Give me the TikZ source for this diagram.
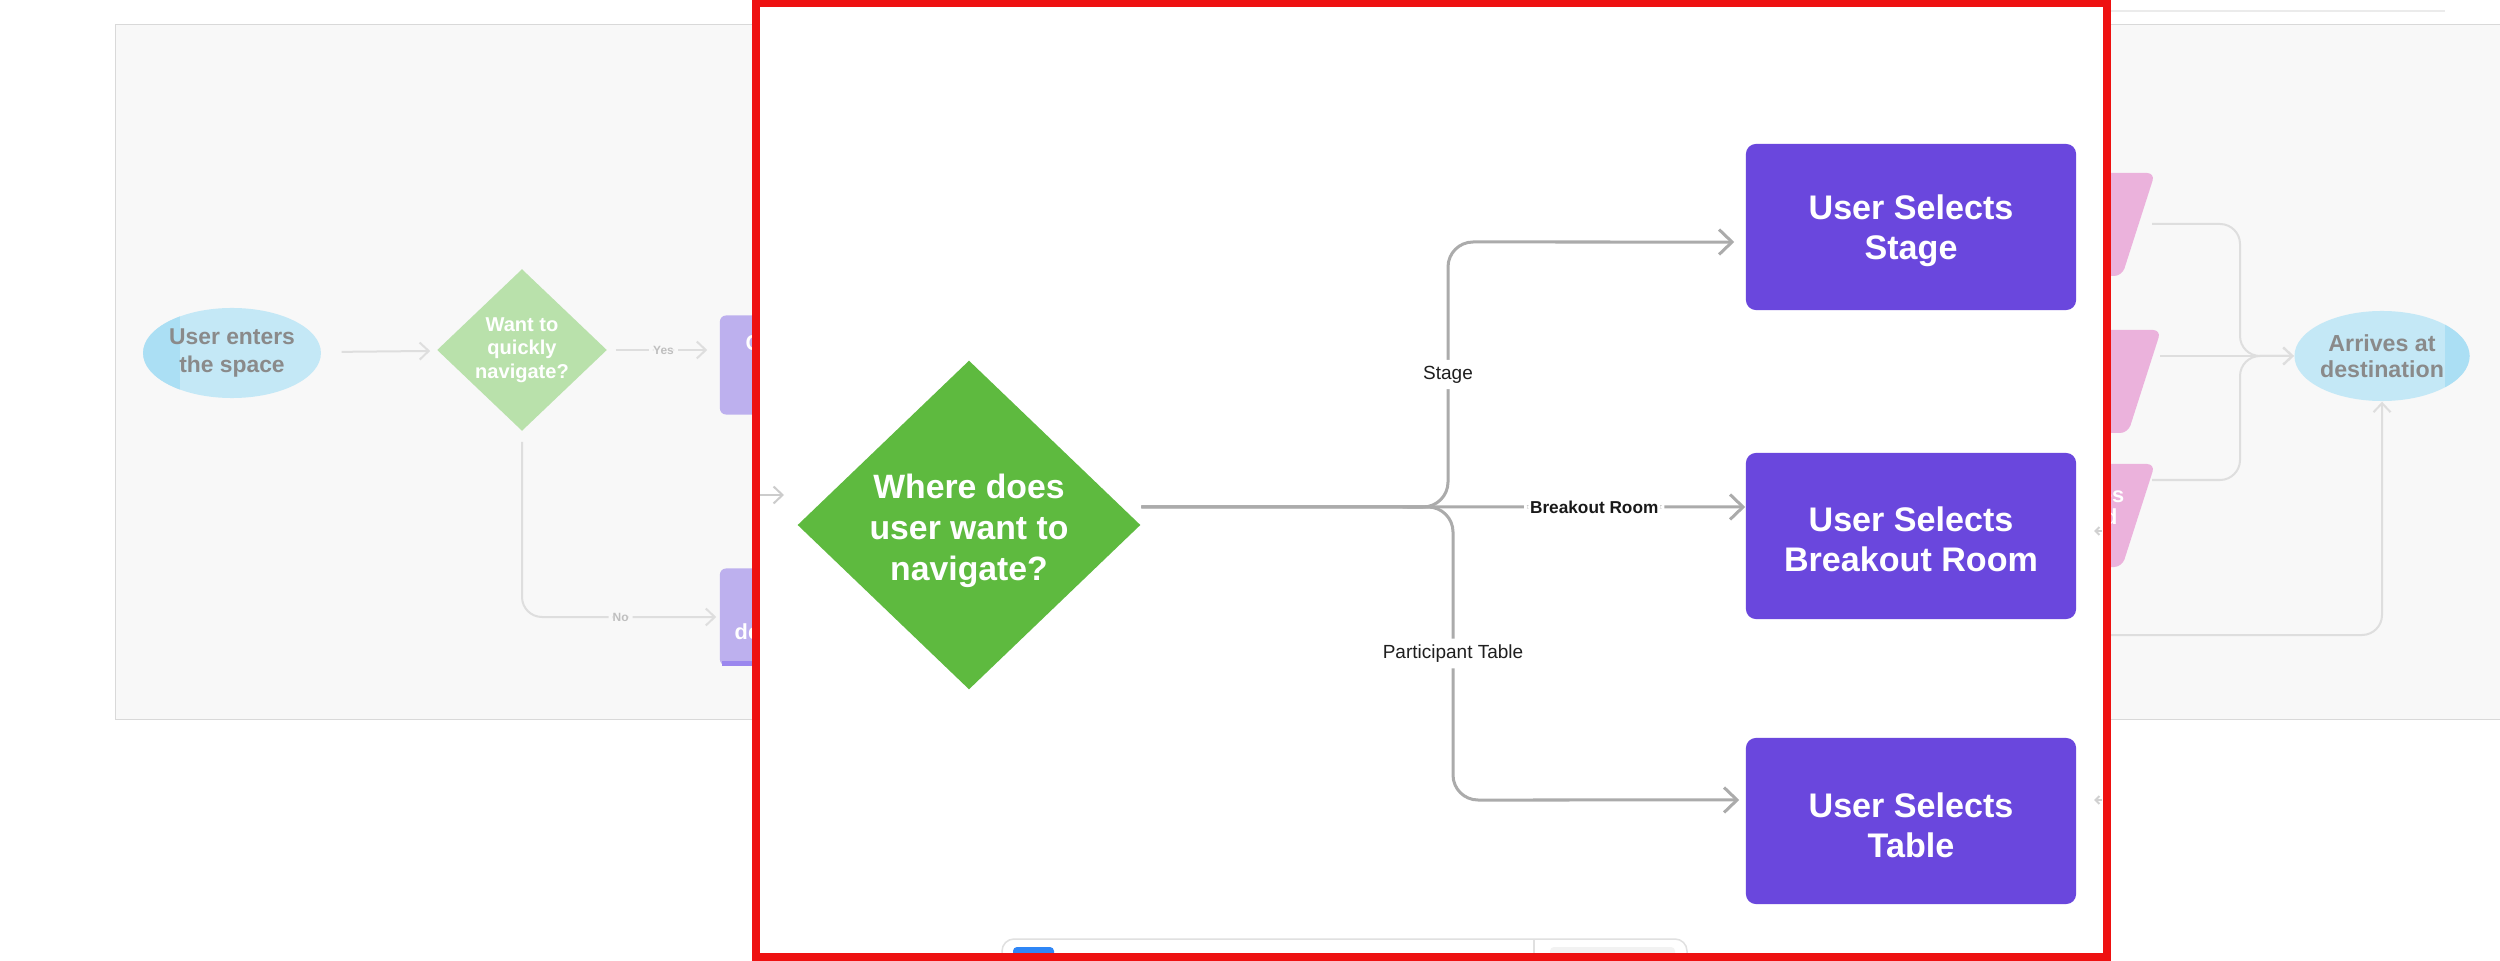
\documentclass[tikz,border=0pt]{standalone}
\usepackage{fontspec}
\setmainfont{Liberation Sans}
\usetikzlibrary{shapes.geometric,arrows.meta}

\definecolor{navgreen}{HTML}{5EBA3F}
\definecolor{selpurple}{HTML}{6A47DD}
\definecolor{linegrey}{HTML}{ABABAB}
\definecolor{framered}{HTML}{EE1111}
\definecolor{panelgrey}{HTML}{F8F8F8}
\definecolor{fadeline}{HTML}{DEDEDE}
\definecolor{fadegreen}{HTML}{B9E1AB}
\definecolor{fadepurple}{HTML}{BDB0EE}
\definecolor{fadepurpledark}{HTML}{9B87EE}
\definecolor{fadepink}{HTML}{EBB2DC}
\definecolor{fadeblue}{HTML}{C4E8F6}
\definecolor{fadebluedark}{HTML}{ABDFF4}
\definecolor{fadetext}{HTML}{8A8A8A}
\definecolor{toolblue}{HTML}{2F86F6}

\begin{document}
\begin{tikzpicture}[x=0.01cm,y=-0.01cm,
		conn/.style={draw=linegrey,line width=0.03cm,rounded corners=0.25cm,-{Straight Barb[length=0.13cm,width=0.25cm]}},
		faint/.style={draw=fadeline,line width=0.02cm,rounded corners=0.2cm,-{Straight Barb[length=0.09cm,width=0.17cm]}},
		decision/.style={diamond,fill=navgreen,minimum width=3.43cm,minimum height=3.29cm,inner sep=0pt},
		decisiontext/.style={inner sep=0pt,align=center,text=white,font=\bfseries\fontsize{9.6}{11.7}\selectfont},
		selbox/.style={rectangle,fill=selpurple,rounded corners=0.1cm,minimum width=3.3cm,minimum height=1.66cm},
		seltext/.style={inner sep=0pt,align=center,text=white,font=\bfseries\fontsize{9.7}{11.4}\selectfont},
		branch/.style={fill=white,inner sep=0.06cm,text=black!88,font=\fontsize{5.4}{6.5}\selectfont},
		fadeoval/.style={ellipse,fill=fadeblue,minimum width=1.75cm,minimum height=0.9cm,inner sep=0pt,align=center,text=fadetext,font=\bfseries\fontsize{6.5}{7.7}\selectfont},
		fadedecision/.style={diamond,fill=fadegreen,minimum width=1.7cm,minimum height=1.62cm,inner sep=0pt,align=center,text=white,font=\bfseries\fontsize{5.7}{6.7}\selectfont},
		fadebox/.style={rectangle,fill=fadepurple,rounded corners=0.06cm,minimum width=2.2cm},
		fadelabel/.style={fill=panelgrey,inner sep=0.04cm,text=black!25,font=\bfseries\fontsize{3.4}{4}\selectfont},
		fadetxt/.style={inner sep=0pt,text=white,font=\bfseries\fontsize{6.2}{7}\selectfont}
	]
	\fill[white] (0,0) rectangle (2500,961);
	\useasboundingbox (0,0) rectangle (2500,961);

	% Board behind
	\draw[fill=panelgrey,draw=black!15,line width=0.01cm] (115,25) rectangle (2560,719);
	\draw[black!8,line width=0.015cm] (2110,11) -- (2445,11);

	% Left part
	\node[fadeoval,path picture={\fill[fadebluedark] (path picture bounding box.south west) rectangle ([xshift=0.37cm]path picture bounding box.north west);}] (enter) at (232,353) {User enters\\the space};
	\node[fadedecision] (quick) at (522,350) {Want to\\quickly\\navigate?};
	\node[fadebox,minimum height=0.99cm] (shortcut) at (830,365) {};
	\node[fadebox,minimum height=0.97cm] (browse) at (830,617) {};
	\fill[fadepurpledark] (722,661) rectangle (800,666);
	\node[fadetxt,anchor=west] (shortcuttxt) at (745,343) {C};
	\node[fadetxt,anchor=west] (browsetxt) at (734,632) {de};

	\draw[faint,shorten <=0.2cm,shorten >=0.07cm] (enter) -- (quick);
	\draw[faint,shorten <=0.08cm,shorten >=0.12cm] (quick.east) -- node[fadelabel]{Yes} (quick.east -| shortcut.west);
	\draw[faint,shorten <=0.1cm,shorten >=0.03cm] (quick.south) |- node[fadelabel,pos=0.75]{No} (browse.west);

	% Right part
	\foreach \n/\y/\x in {1/173/2155, 2/330/2161, 3/464/2155} {
			\fill[fadepink,rounded corners=0.08cm] (1900,\y) -- (\x,\y) -- (\x-33,\y+103) -- (1867,\y+103) -- cycle;
		}
	\coordinate (pk1) at (2152,224);
	\coordinate (pk2) at (2160,356);
	\coordinate (pk3) at (2152,480);
	\node[fadetxt,anchor=east] (pk3txta) at (2125,497) {es};
	\node[fadetxt,anchor=east] (pk3txtb) at (2118,517) {d};

	\node[fadeoval,font=\bfseries\fontsize{6.6}{7.4}\selectfont,path picture={\fill[fadebluedark] ([xshift=-0.25cm]path picture bounding box.south east) rectangle (path picture bounding box.north east);}] (arrive) at (2382,356) {Arrives at\\destination};

	\draw[faint] (pk1) -- (2240,224) -- (2240,356) -- (arrive.west);
	\draw[faint] (pk2) -- (arrive.west);
	\draw[faint] (pk3) -- (2240,480) -- (2240,356) -- (arrive.west);
	\coordinate (fromframe) at (2110,635);
	\draw[faint] (fromframe) -| (arrive.south);

	% Frame
	\fill[white] (756,3) rectangle (2107,957);

	% Toolbar
	\draw[fill=white,draw=black!12,line width=0.015cm,rounded corners=0.12cm] (1002,939) rectangle (1687,1000);
	\draw[black!12,line width=0.015cm] (1534,939) -- (1534,961);
	\fill[toolblue,rounded corners=0.04cm] (1013,947) rectangle (1054,975);
	\fill[black!5,rounded corners=0.04cm] (1550,947) rectangle (1675,975);

	% Stubs
	\coordinate (inl) at (760,495);
	\coordinate (inr) at (784,495);
	\draw[faint,draw=black!20] (inl) -- (inr);
	\coordinate (stuba) at (2102,531);
	\coordinate (stubb) at (2094,531);
	\draw[faint,draw=black!18,-{Straight Barb[length=0.04cm,width=0.08cm]}] (stuba) -- (stubb);
	\coordinate (stubc) at (2102,800);
	\coordinate (stubd) at (2094,800);
	\draw[faint,draw=black!18,-{Straight Barb[length=0.04cm,width=0.08cm]}] (stubc) -- (stubd);

	% Decision
	\node[decision] (where) at (969,525) {};
	\node[decisiontext] (wheretxt) at (969,531) {Where does\\user want to\\navigate?};

	% Targets
	\node[selbox] (stage) at (1911,227) {};
	\node[seltext] (stagetxt) at (1911,231) {User Selects\\Stage};
	\node[selbox] (room) at (1911,536) {};
	\node[seltext] (roomtxt) at (1911,539) {User Selects\\Breakout Room};
	\node[selbox] (table) at (1911,821) {};
	\node[seltext] (tabletxt) at (1911,825) {User Selects\\Table};

	% Branches
	\coordinate (whereout) at ([yshift=0.18cm]where.east);
	\draw[conn] (whereout) -- (1448,507) -- node[branch]{Stage} (1448,242) -- ([xshift=-0.11cm,yshift=-0.15cm]stage.west);
	\draw[conn] (whereout) -- node[branch,pos=0.75,font=\bfseries\fontsize{4.9}{6}\selectfont,text=black!90]{Breakout Room} ([yshift=0.29cm]room.west);
	\draw[conn] (whereout) -- (1453,507) -- node[branch]{Participant Table} (1453,800) -- ([xshift=-0.06cm,yshift=0.21cm]table.west);

	% Red outline
	\draw[framered,line width=0.08cm] (756,3) rectangle (2107,957);
\end{tikzpicture}
\end{document}
